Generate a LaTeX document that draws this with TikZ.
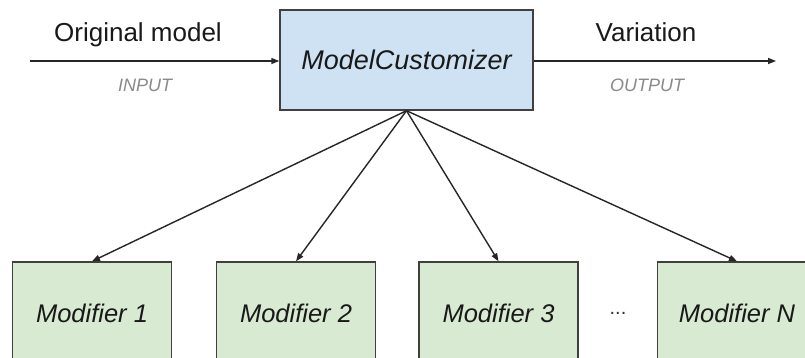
\documentclass[tikz,border=0pt]{standalone}
\usepackage{fontspec}
\setmainfont{Liberation Sans}
\usetikzlibrary{arrows.meta}
\definecolor{custfill}{HTML}{CFE2F3}
\definecolor{modfill}{HTML}{D9EAD3}
\definecolor{edgegray}{HTML}{404040}
\definecolor{labelgray}{HTML}{8A8A8A}
\tikzset{
  box/.style={draw=edgegray, line width=1.4pt, inner sep=0pt, text=black!90},
  custbox/.style={box, fill=custfill, minimum width=253pt, minimum height=100pt, font=\fontsize{27}{32}\selectfont\itshape},
  modbox/.style={box, fill=modfill, minimum width=159pt, minimum height=102pt, font=\fontsize{25.5}{30}\selectfont\itshape},
  flow/.style={draw=black!85, line width=1.4pt, -{Triangle[length=8pt,width=6pt]}},
  caption/.style={anchor=base, font=\fontsize{26}{31}\selectfont, text=black!90},
  iolabel/.style={anchor=base, font=\fontsize{18}{22}\selectfont\itshape, text=labelgray}
}
\begin{document}
\begin{tikzpicture}[x=1pt,y=-1pt]
  \useasboundingbox (0,0) rectangle (805,358);
  \clip (0,0) rectangle (805,358);
  \fill[white] (0,0) rectangle (805,358);

  % central component
  \node[custbox] (cust) at (406.5,60) {ModelCustomizer};

  % modifiers along the bottom
  \node[modbox] (m1) at (92,313) {Modifier 1};
  \node[modbox] (m2) at (296,313) {Modifier 2};
  \node[modbox] (m3) at (498.5,313) {Modifier 3};
  \node[modbox] (mn) at (737,313) {Modifier N};
  \node[font=\fontsize{20}{24}\selectfont, text=black!80] (dots) at (618,313) {...};

  % input and output
  \coordinate (in) at (30,61);
  \coordinate (out) at (776,61);
  \draw[flow] (in) -- (cust.west |- in);
  \draw[flow] (cust.east |- out) -- (out);
  \node[caption] (orig) at (138,42) {Original model};
  \node[iolabel] (inlab) at (145,92) {INPUT};
  \node[caption] (var) at (646,42) {Variation};
  \node[iolabel] (outlab) at (647,92) {OUTPUT};

  % fan-out to the modifiers
  \foreach \m in {m1,m2,m3,mn}
    \draw[flow] (cust.south) -- (\m.north);
\end{tikzpicture}
\end{document}
